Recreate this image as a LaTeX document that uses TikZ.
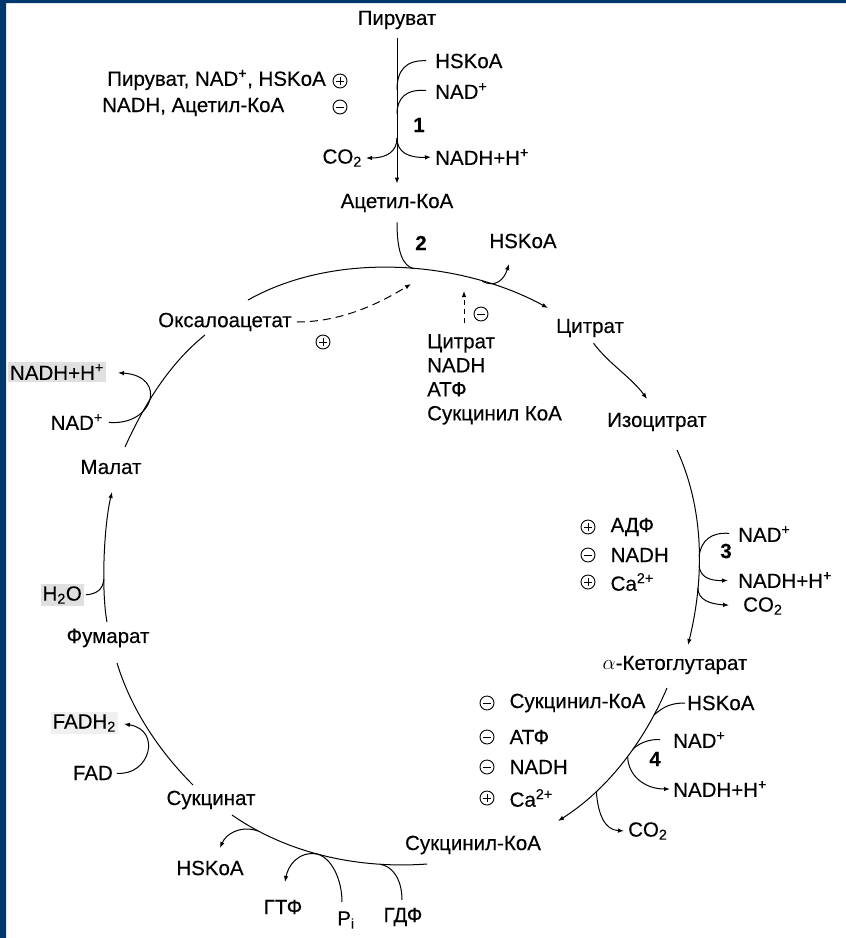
\documentclass[tikz,border=0pt]{standalone}
\usepackage{fontspec}
\setmainfont{Liberation Sans}[FakeBold=0.3]
\usepackage{tikz}
\usetikzlibrary{arrows.meta,positioning}
\definecolor{frame}{RGB}{0,56,108}

\begin{document}
\begin{tikzpicture}[x=1pt,y=-1pt,
	every node/.style={inner sep=1pt,font=\fontsize{20.5}{24}\selectfont},
	ln/.style={line width=1pt},
	rxn/.style={ln,-{Latex[length=6pt,width=4.5pt]}},
	sgn/.style={shape=circle,draw,line width=0.9pt,minimum size=14pt,inner sep=0pt},
	inhb/.style={sgn,path picture={\draw[line width=0.9pt] ([xshift=3.3pt]path picture bounding box.west) -- ([xshift=-3.3pt]path picture bounding box.east);}},
	actv/.style={sgn,path picture={\draw[line width=0.9pt] ([xshift=3.3pt]path picture bounding box.west) -- ([xshift=-3.3pt]path picture bounding box.east) ([yshift=-3.3pt]path picture bounding box.north) -- ([yshift=3.3pt]path picture bounding box.south);}},
	hl/.style={fill=black!12,inner sep=2pt}]
		\useasboundingbox (0,0) rectangle (846,938);
		\fill[frame] (0,0) rectangle (6,938) (0,0) rectangle (846,3);

		\node(pyr) at (397,20) {Пируват};
		\node(acoa) at (397,203) {Ацетил-КоА};
		\draw[rxn,shorten <=8pt,shorten >=9pt] (pyr) -- (acoa);
		\coordinate (v1) at (397,90);
		\coordinate (v2) at (397,114);
		\coordinate (v3) at (397,138);
		\node(hs1) [anchor=west] at (434,61) {HSKoA};
		\node(nad1) [anchor=west] at (434,91) {NAD\textsuperscript{+}};
		\node(n1) at (419,125) {\textbf{1}};
		\node(co2a) [anchor=east] at (363,158) {CO\textsubscript{2}};
		\node(nadh1) [anchor=west] at (434,157) {NADH+H\textsuperscript{+}};
		\draw[ln,shorten <=8pt] (hs1.west) .. controls (406,60) and (397,70) .. (v1);
		\draw[ln,shorten <=8pt] (nad1.west) .. controls (406,89) and (397,98) .. (v2);
		\draw[rxn,shorten >=3pt] (v3) .. controls (397,152) and (386,158) .. (co2a.east);
		\draw[rxn,shorten >=3pt] (v3) .. controls (397,152) and (408,158) .. (nadh1.west);
		\node(reg1) [anchor=east] at (327,80) {Пируват, NAD\textsuperscript{+}, HSKoA};
		\node(pl1) [actv] at (340,81) {};
		\node(reg2) [anchor=west] at (101,107) {NADH, Ацетил-КоА};
		\node(mi1) [inhb] at (340,107) {};

		\node(oaa) at (225,322) {Оксалоацетат};
		\node(cit) at (590,328) {Цитрат};
		\coordinate (s1) at (248,300);
		\coordinate (t1) at (548,308);
		\draw[rxn] (s1) .. controls (335,251) and (460,260) .. (t1) coordinate[pos=0.55] (c1) coordinate[pos=0.77] (c2);
		\draw[ln,shorten <=9pt] (acoa) .. controls (397,255) and (404,266) .. (c1);
		\node(n2) at (421,243) {\textbf{2}};
		\node(hs2) at (523,241) {HSKoA};
		\coordinate (t2) at (509,264);
		\draw[rxn] (c2) .. controls (495,288) and (504,280) .. (t2);
		\coordinate (t3) at (411,284);
		\draw[rxn,dash pattern=on 8pt off 5pt,shorten <=4pt] (oaa.east) .. controls (345,322) and (385,300) .. (t3);
		\node(pl2) [actv] at (323,342) {};
		\node(lst) [anchor=north west,align=left] at (426,333) {Цитрат\\NADH\\АТФ\\Сукцинил КоА};
		\coordinate (t4) at (464,291);
		\draw[rxn,dash pattern=on 5pt off 4pt,shorten <=10pt] (lst.north -| t4) -- (t4);
		\node(mi2) [inhb] at (481,314) {};

		\node(icit) at (657,422) {Изоцитрат};
		\coordinate (t5) at (647,399);
		\draw[rxn,shorten <=6pt] (cit.south) .. controls (608,363) and (632,378) .. (t5);

		\node(akg) at (675,665) {$\alpha$-Кетоглутарат};
		\coordinate (s6) at (677,450);
		\coordinate (t6) at (688,645);
		\draw[rxn] (s6) .. controls (705,511) and (704,580) .. (t6) coordinate[pos=0.55] (d1) coordinate[pos=0.6] (d2) coordinate[pos=0.71] (d3);
		\node(nad3) [anchor=west] at (737,534) {NAD\textsuperscript{+}};
		\node(n3) at (726,551) {\textbf{3}};
		\node(nadh3) [anchor=west] at (737,580) {NADH+H\textsuperscript{+}};
		\node(co2b) [anchor=west] at (742,606) {CO\textsubscript{2}};
		\draw[ln,shorten <=8pt] (nad3.west) .. controls (712,532) and (701,540) .. (d1);
		\draw[rxn,shorten >=9pt] (d2) .. controls (700,577) and (710,581) .. (nadh3.west);
		\draw[rxn,shorten >=13pt] (d3) .. controls (698,600) and (710,604) .. (co2b.west);
		\node(pl3) [actv] at (588,527) {};
		\node(adp) [right=14pt of pl3] {АДФ};
		\node(mi3) [inhb] at (588,555) {};
		\node(nadh3r) [right=14pt of mi3] {NADH};
		\node(pl4) [actv] at (588,582) {};
		\node(ca3) [right=14pt of pl4] {Ca\textsuperscript{2+}};

		\node(scoa) at (473,845) {Сукцинил-КоА};
		\coordinate (s7) at (667,688);
		\coordinate (t7) at (558,821);
		\draw[rxn] (s7) .. controls (644,742) and (607,790) .. (t7) coordinate[pos=0.17] (e1) coordinate[pos=0.4] (e2) coordinate[pos=0.45] (e3) coordinate[pos=0.72] (e4);
		\node(hs4) [anchor=west] at (686,703) {HSKoA};
		\node(nad4) [anchor=west] at (672,740) {NAD\textsuperscript{+}};
		\node(n4) at (655,759) {\textbf{4}};
		\node(nadh4) [anchor=west] at (672,789) {NADH+H\textsuperscript{+}};
		\node(co2c) [anchor=west] at (627,831) {CO\textsubscript{2}};
		\draw[ln,shorten <=1pt] (hs4.west) .. controls (672,703) and (664,706) .. (e1);
		\draw[ln,shorten <=12pt] (nad4.west) .. controls (648,739) and (638,744) .. (e2);
		\draw[rxn,shorten >=2pt] (e3) .. controls (628,776) and (645,789) .. (nadh4.west);
		\draw[rxn,shorten >=3pt] (e4) .. controls (598,815) and (605,830) .. (co2c.west);
		\node(mi4) [inhb] at (487,703) {};
		\node(scoar) [right=14pt of mi4] {Сукцинил-КоА};
		\node(mi5) [inhb] at (487,737) {};
		\node(atp4) [right=14pt of mi5] {АТФ};
		\node(mi6) [inhb] at (487,767) {};
		\node(nadh4r) [right=14pt of mi6] {NADH};
		\node(pl5) [actv] at (487,798) {};
		\node(ca4) [right=14pt of pl5] {Ca\textsuperscript{2+}};

		\node(succ) at (211,800) {Сукцинат};
		\coordinate (s8) at (427,864);
		\coordinate (t8) at (232,815);
		\draw[ln] (s8) .. controls (359,869) and (288,854) .. (t8) coordinate[pos=0.23] (f1) coordinate[pos=0.54] (f2) coordinate[pos=0.85] (f3);
		\node(hsb) at (210,868) {HSKoA};
		\node(gtp) at (283,907) {ГТФ};
		\node(pi) at (346,920) {P\textsubscript{i}};
		\node(gdp) at (403,917) {ГДФ};
		\coordinate (tb1) at (220,848);
		\coordinate (tb2) at (285,882);
		\coordinate (tb3) at (342,902);
		\coordinate (tb4) at (402,900);
		\draw[rxn] (f3) .. controls (240,825) and (226,834) .. (tb1);
		\draw[rxn] (f2) .. controls (298,851) and (288,866) .. (tb2);
		\draw[ln] (f2) .. controls (332,858) and (342,880) .. (tb3);
		\draw[ln] (f1) .. controls (393,866) and (402,880) .. (tb4);

		\node(fum) at (108,638) {Фумарат};
		\coordinate (s9) at (193,785);
		\coordinate (t9) at (117,663);
		\draw[ln] (s9) .. controls (159,751) and (131,709) .. (t9);
		\node(fad) [anchor=east] at (114,773) {FAD};
		\node(fadh) [anchor=east,hl,fill=black!6] at (118,723) {FADH\textsubscript{2}};
		\draw[rxn,shorten <=3pt,shorten >=6pt] (fad.east) .. controls (150,776) and (162,730) .. (fadh.east);

		\node(mal) at (111,467) {Малат};
		\coordinate (s10) at (107,622);
		\coordinate (t10) at (112,492);
		\draw[rxn] (s10) .. controls (101,590) and (104,525) .. (t10) coordinate[pos=0.35] (g1);
		\node(h2o) [anchor=east,hl] at (84,595) {H\textsubscript{2}O};
		\draw[ln,shorten <=2pt] (h2o.east) .. controls (96,594) and (103,590) .. (g1);

		\coordinate (s11) at (125,447);
		\coordinate (t11) at (205,335);
		\draw[ln] (s11) .. controls (144,405) and (169,364) .. (t11);
		\node(nadL) [anchor=east] at (104,422) {NAD\textsuperscript{+}};
		\node(nadhL) [anchor=east,hl] at (106,372) {NADH+H\textsuperscript{+}};
		\draw[rxn,shorten <=5pt,shorten >=12pt] (nadL.east) .. controls (154,426) and (168,376) .. (nadhL.east);
\end{tikzpicture}
\end{document}
